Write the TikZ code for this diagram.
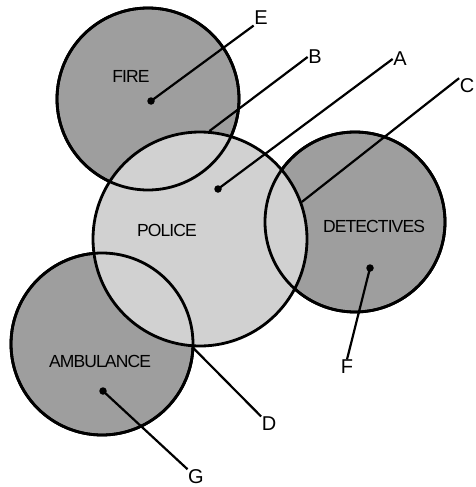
\documentclass[tikz,border=0pt]{standalone}
\usepackage{fontspec}
\usepackage{tikz}
\usetikzlibrary{positioning}
\newfontfamily\zonefont[LetterSpace=-5]{Liberation Sans}
\newfontfamily\tagfont{Liberation Sans}
\definecolor{darkzone}{gray}{0.62}
\definecolor{lightzone}{gray}{0.82}

\begin{document}
\begin{tikzpicture}[
  x=1pt, y=-1pt,
  zone/.style={circle, draw=black, line width=2.8pt, inner sep=0pt},
  rim/.style={draw=black, line width=2.8pt},
  zonelabel/.style={font=\zonefont\fontsize{17.5}{17.5}\selectfont, inner sep=0pt},
  tagtext/.style={font=\tagfont\fontsize{20}{20}\selectfont, inner sep=0.5pt},
  dot/.style={circle, fill=black, inner sep=0pt, minimum size=7.5pt},
  leader/.style={line width=2.2pt},
]
  \useasboundingbox (0,0) rectangle (475,487);

  % the three outer services
  \node[zone, fill=darkzone, minimum size=182pt] (fire) at (148,99) {};
  \node[zone, fill=darkzone, minimum size=180pt] (detectives) at (355,222) {};
  \node[zone, fill=darkzone, minimum size=182pt] (ambulance) at (102,344) {};
  % police in the middle, on top
  \node[zone, fill=lightzone, minimum size=214pt] (police) at (200,239) {};
  % redraw the outer rims over the police fill
  \draw[rim] (fire.center) circle[radius=91pt];
  \draw[rim] (detectives.center) circle[radius=90pt];
  \draw[rim] (ambulance.center) circle[radius=91pt];

  \node[zonelabel] (fireName) at (131,76) {FIRE};
  \node[zonelabel] (policeName) at (167,230) {POLICE};
  \node[zonelabel] (detName) at (374,226) {DETECTIVES};
  \node[zonelabel] (ambName) at (100,361) {AMBULANCE};

  \node[dot] (fireDot) at (151,101) {};
  \node[dot] (policeDot) at (218,189) {};
  \node[dot] (detDot) at (370,268) {};
  \node[dot] (ambDot) at (103,391) {};

  % letter tags
  \node[tagtext] (E) at (261,18) {E};
  \node[tagtext] (B) at (315,57) {B};
  \node[tagtext] (A) at (400,59) {A};
  \node[tagtext] (C) at (467,86) {C};
  \node[tagtext] (F) at (347,367) {F};
  \node[tagtext] (D) at (269,424) {D};
  \node[tagtext] (G) at (196,477) {G};

  \draw[leader] (fireDot.center) -- (E.south west);
  \draw[leader] (police.85) -- (B.west);
  \draw[leader] (policeDot.center) -- (A.west);
  \draw[leader] (police.20) -- (C.north west);
  \draw[leader] (detDot.center) -- (F.north);
  \draw[leader] (police.266) -- (D.north west);
  \draw[leader] (ambDot.center) -- (G.north west);
\end{tikzpicture}
\end{document}
